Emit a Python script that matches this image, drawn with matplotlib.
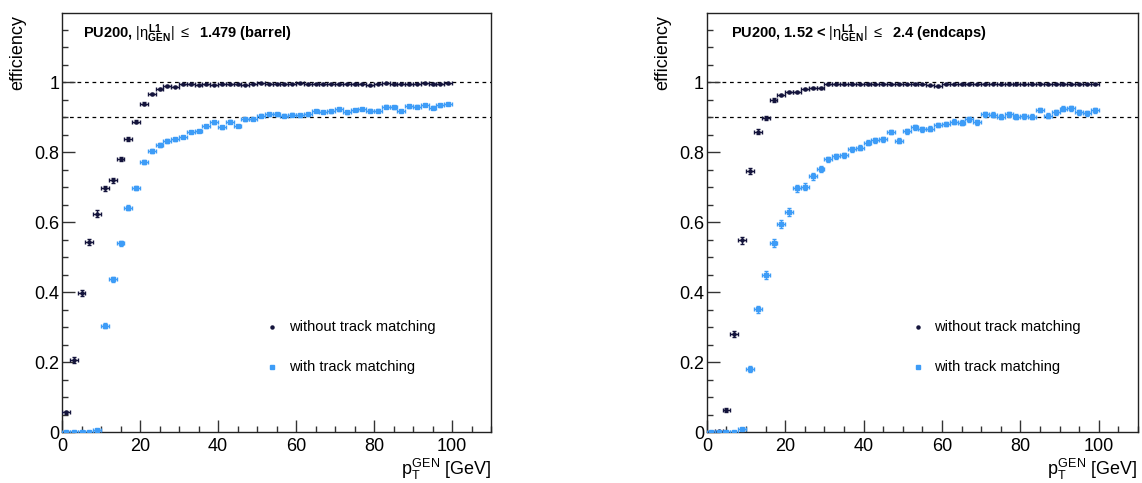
import matplotlib
matplotlib.use("Agg")
import matplotlib.pyplot as plt
from matplotlib.ticker import MultipleLocator

plt.rcParams['font.family'] = ['Liberation Sans', 'DejaVu Sans']
plt.rcParams['mathtext.fontset'] = 'custom'
plt.rcParams['mathtext.rm'] = 'Liberation Sans'
plt.rcParams['mathtext.it'] = 'Liberation Sans'
plt.rcParams['mathtext.bf'] = 'Liberation Sans:bold'

# bin centres (2 GeV bins)
pt = [1, 3, 5, 7, 9, 11, 13, 15, 17, 19, 21, 23, 25, 27, 29, 31, 33, 35, 37, 39,
      41, 43, 45, 47, 49, 51, 53, 55, 57, 59, 61, 63, 65, 67, 69, 71, 73, 75, 77, 79,
      81, 83, 85, 87, 89, 91, 93, 95, 97, 99]

# barrel
barrel_notrk = [0.057, 0.207, 0.399, 0.543, 0.625, 0.697, 0.720, 0.781, 0.837, 0.888,
                0.939, 0.967, 0.981, 0.990, 0.988, 0.994, 0.995, 0.993, 0.994, 0.993,
                0.995, 0.994, 0.994, 0.993, 0.996, 0.997, 0.996, 0.996, 0.995, 0.996,
                0.997, 0.995, 0.996, 0.995, 0.996, 0.995, 0.996, 0.995, 0.996, 0.991,
                0.996, 0.997, 0.995, 0.996, 0.995, 0.996, 0.997, 0.995, 0.996, 0.997]
barrel_trk = [0.001, 0.001, 0.001, 0.002, 0.006, 0.305, 0.437, 0.540, 0.642, 0.698,
              0.772, 0.804, 0.821, 0.832, 0.837, 0.844, 0.858, 0.861, 0.874, 0.886,
              0.872, 0.887, 0.875, 0.894, 0.895, 0.905, 0.909, 0.909, 0.905, 0.908,
              0.906, 0.909, 0.918, 0.915, 0.917, 0.923, 0.914, 0.921, 0.924, 0.919,
              0.919, 0.930, 0.929, 0.918, 0.932, 0.930, 0.935, 0.928, 0.934, 0.938]

# endcaps
endcap_notrk = [0.001, 0.003, 0.064, 0.281, 0.549, 0.747, 0.859, 0.899, 0.949, 0.964,
                0.973, 0.973, 0.982, 0.984, 0.984, 0.995, 0.995, 0.994, 0.995, 0.994,
                0.995, 0.994, 0.995, 0.994, 0.995, 0.994, 0.995, 0.994, 0.991, 0.990,
                0.995, 0.994, 0.995, 0.995, 0.994, 0.995, 0.996, 0.994, 0.995, 0.995,
                0.994, 0.995, 0.996, 0.994, 0.995, 0.995, 0.994, 0.995, 0.995, 0.995]
endcap_trk = [0.001, 0.001, 0.002, 0.002, 0.009, 0.180, 0.352, 0.449, 0.540, 0.596,
              0.629, 0.698, 0.702, 0.732, 0.753, 0.780, 0.789, 0.791, 0.809, 0.813,
              0.828, 0.835, 0.837, 0.858, 0.833, 0.860, 0.871, 0.866, 0.868, 0.878,
              0.881, 0.887, 0.885, 0.894, 0.886, 0.909, 0.907, 0.902, 0.909, 0.902,
              0.903, 0.902, 0.921, 0.904, 0.914, 0.925, 0.926, 0.914, 0.912, 0.920]

# vertical errors
err_barrel_notrk = [0.005, 0.008, 0.009, 0.009, 0.009, 0.008, 0.008, 0.007, 0.006, 0.005,
                    0.004, 0.003, 0.002, 0.002, 0.002] + [0.002] * 35
err_barrel_trk = [0.001, 0.001, 0.001, 0.001, 0.002, 0.008, 0.008, 0.008, 0.007, 0.007,
                  0.006, 0.005, 0.005, 0.005, 0.005] + [0.004] * 35
err_endcap_notrk = [0.001, 0.002, 0.005, 0.009, 0.010, 0.009, 0.007, 0.006, 0.005, 0.004,
                    0.003, 0.003, 0.003, 0.002, 0.002] + [0.002] * 35
err_endcap_trk = [0.001, 0.001, 0.001, 0.001, 0.003, 0.008, 0.010, 0.011, 0.011, 0.011,
                  0.011, 0.010, 0.010, 0.010, 0.009] + [0.007] * 35

titles = [r"PU200, $|\eta^{\mathbf{L1}}_{\mathbf{GEN}}|$ $\leq$  1.479 (barrel)",
          r"PU200, 1.52 < $|\eta^{\mathbf{L1}}_{\mathbf{GEN}}|$ $\leq$  2.4 (endcaps)"]

dark = '#14143c'
blue = '#3d9cf7'

fig = plt.figure(figsize=(11.42, 4.83), dpi=100)
ax1 = fig.add_axes([0.0543, 0.105, 0.3757, 0.868])
ax2 = fig.add_axes([0.619, 0.105, 0.3774, 0.868])

panels = [(ax1, barrel_notrk, err_barrel_notrk, barrel_trk, err_barrel_trk, titles[0], 0.05),
          (ax2, endcap_notrk, err_endcap_notrk, endcap_trk, err_endcap_trk, titles[1], 0.057)]

for ax, y0, e0, y1, e1, title, tx in panels:
    ax.axhline(1.0, color='black', lw=0.9, ls=(0, (3, 3)), zorder=1)
    ax.axhline(0.9, color='black', lw=0.9, ls=(0, (3, 3)), zorder=1)

    ax.errorbar(pt, y0, xerr=1, yerr=e0, fmt='o', ms=2.2, color=dark,
                elinewidth=1.0, capsize=1.5, capthick=1.0, zorder=3)
    ax.errorbar(pt, y1, xerr=1, yerr=e1, fmt='s', ms=2.6, color=blue,
                elinewidth=1.0, capsize=1.5, capthick=1.0, zorder=3)

    ax.set_xlim(0, 110)
    ax.set_ylim(0, 1.198)
    ax.set_yticks([0, 0.2, 0.4, 0.6, 0.8, 1.0])
    ax.set_yticklabels(['0', '0.2', '0.4', '0.6', '0.8', '1'])
    ax.set_xticks([0, 20, 40, 60, 80, 100])
    ax.xaxis.set_minor_locator(MultipleLocator(5))
    ax.yaxis.set_minor_locator(MultipleLocator(0.05))
    ax.tick_params(which='both', direction='in', top=False, right=False,
                   labelsize=13, color='#333333')
    ax.tick_params(axis='x', which='major', length=9, width=1, pad=4)
    ax.tick_params(axis='x', which='minor', length=4.5, width=1)
    ax.tick_params(axis='y', which='major', length=9.5, width=1, pad=2)
    ax.tick_params(axis='y', which='minor', length=4.5, width=1)
    for sp in ax.spines.values():
        sp.set_linewidth(1.0)
        sp.set_color('#222222')

    ax.text(tx, 0.941, title, transform=ax.transAxes, fontsize=10.5,
            fontweight='bold', ha='left', va='baseline')

    ax.text(-0.103, 0.995, 'efficiency', transform=ax.transAxes, fontsize=13,
            rotation=90, ha='center', va='top')
    ax.text(1.0, -0.102, r'$p_{T}^{GEN}$ [GeV]', transform=ax.transAxes,
            fontsize=13, ha='right', va='baseline')

    # legend
    ax.plot([0.49], [0.251], 'o', ms=2.2, color=dark, transform=ax.transAxes)
    ax.plot([0.49], [0.156], 's', ms=2.8, color=blue, transform=ax.transAxes)
    ax.text(0.528, 0.251, 'without track matching', transform=ax.transAxes,
            fontsize=10.5, ha='left', va='center')
    ax.text(0.528, 0.156, 'with track matching', transform=ax.transAxes,
            fontsize=10.5, ha='left', va='center')

fig.savefig('out.png', dpi=100)
